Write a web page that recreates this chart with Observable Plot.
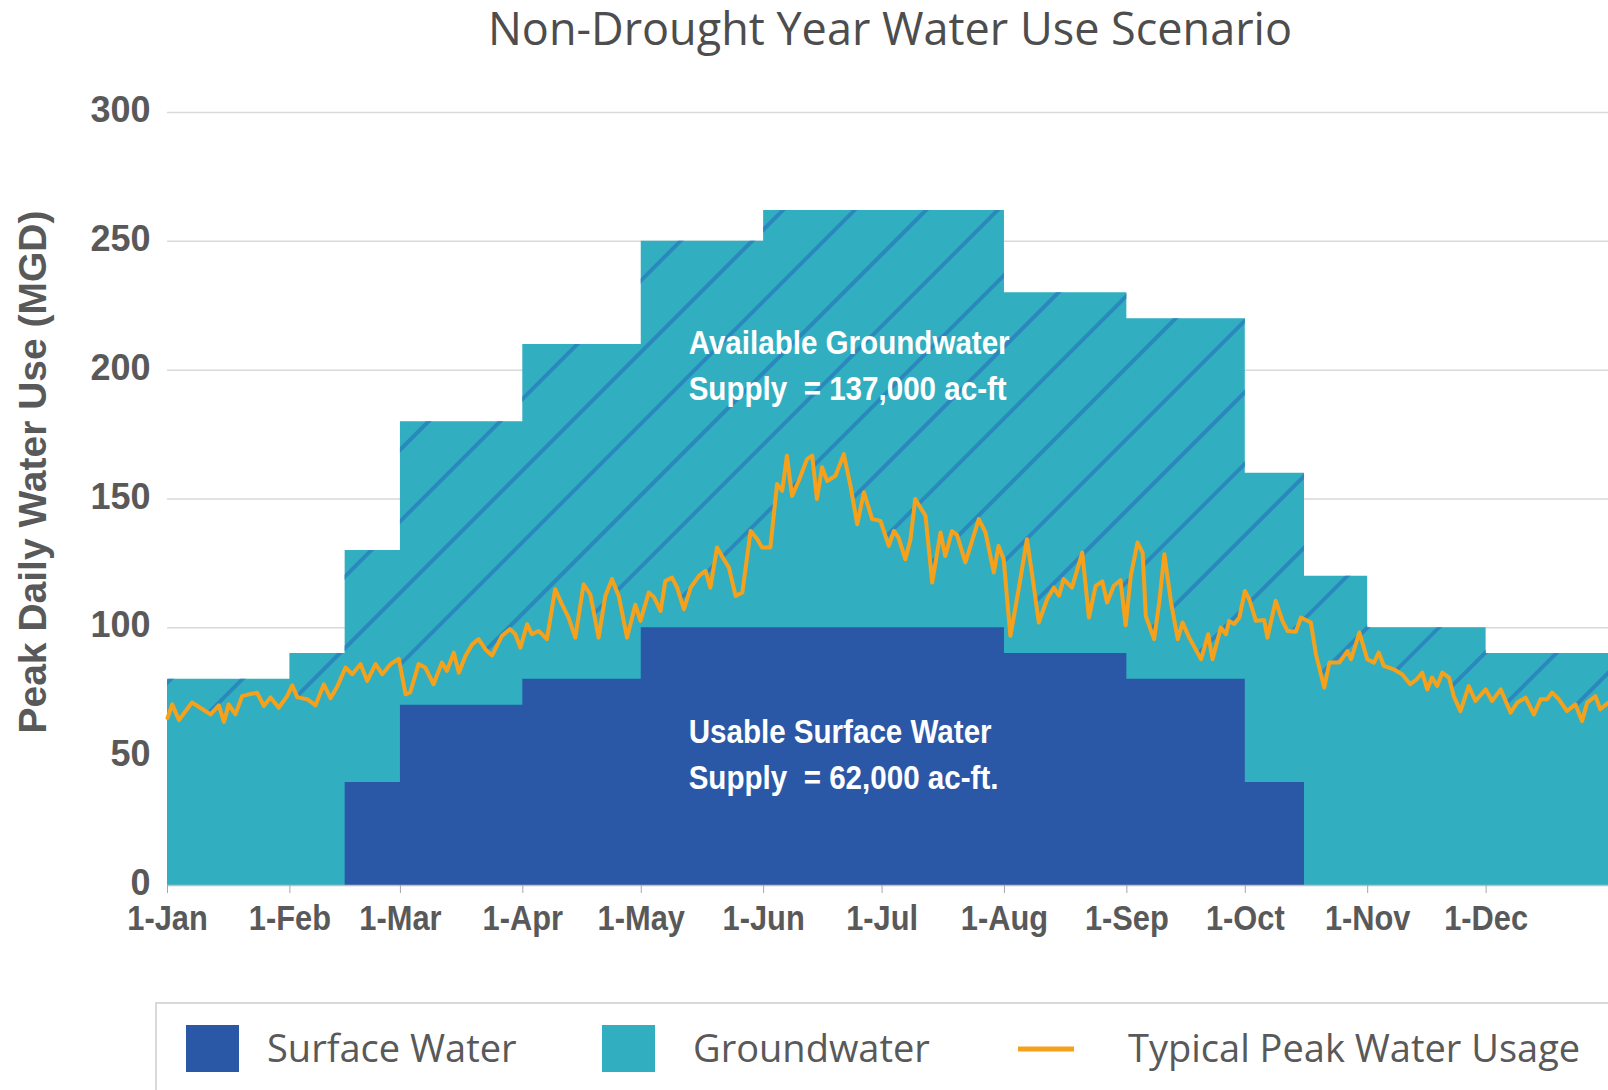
<!DOCTYPE html>
<html>
<head>
<meta charset="utf-8">
<script src="https://cdn.jsdelivr.net/npm/d3@7"></script>
<script src="https://cdn.jsdelivr.net/npm/@observablehq/plot@0.6"></script>
<style>
  body { margin: 0; background: #fff; width: 1608px; height: 1090px; overflow: hidden; position: relative; }
  #title { position: absolute; left: 890px; top: 0px; transform: translateX(-50%); font-family: "Open Sans", sans-serif; font-size: 45px; color: #4d4d4d; white-space: nowrap; line-height: 56px; }
  #chart { position: absolute; left: 0; top: 60px; }
  #legend { position: absolute; left: 0; top: 990px; }
</style>
</head>
<body>
<div id="title">Non-Drought Year Water Use Scenario</div>
<div id="chart"></div>
<svg id="legend" width="1608" height="100"></svg>
<script>
// ---- Data ----
const supplyStarts = ["2021-01-01","2021-02-01","2021-02-15","2021-03-01","2021-04-01","2021-05-01","2021-06-01","2021-08-01","2021-09-01","2021-10-01","2021-10-16","2021-11-01","2021-12-01","2022-01-01"];
const totalSupply   = [80, 90, 130, 180, 210, 250, 262, 230, 220, 160, 120, 100, 90, 90];
const surfaceSupply = [0, 0, 40, 70, 80, 100, 100, 90, 80, 40, 0, 0, 0, 0];

// Typical peak water usage: day of year (0 = 1-Jan) and MGD
const usageDay = [0,1.2,2.9,6.2,8.3,10.9,13,14.3,15.5,17.2,18.9,20.6,22.7,24.4,26.1,28.2,30.3,31.6,32.9,35.4,37.5,39.6,41.3,43,45.1,46.8,48.9,50.6,52.7,54.4,56.5,58.6,60.3,61.5,63.6,65.3,67.4,69.5,70.8,72.5,73.8,75.5,77.2,78.8,80.5,82.2,84.7,86.8,88.1,89.4,91.1,92.3,94,96.1,98.2,99.9,101.6,103.3,105.4,107.1,109.2,110.9,112.6,114.3,116.4,118.5,119.8,121.9,123.2,124.9,126.1,127.8,129.1,130.8,132.5,134.6,136.3,137.5,139.2,140.9,142.2,143.9,145.6,147.7,149.4,150.6,152.7,154.4,155.7,156.9,158.2,159.9,162,163.3,164.5,165.8,167.1,169.2,171.3,173,174.7,176.4,178.5,180.6,182.7,184,185.2,186.9,188.2,189.4,190.7,192,193.7,195.8,197,198.7,200,202.1,205.5,207.2,209.3,210.5,211.8,213.5,215.6,217.7,219,220.7,222.8,224.5,225.8,227,229.1,231.7,233.4,235.1,236.8,238,239.7,241.4,242.7,244,245.7,247,247.8,249.9,251.2,252.5,254.2,255.9,257.1,258.8,261.8,263.6,264.7,266.8,268.1,268.9,270.2,271.5,272.9,274,275.7,277.8,278.6,280.7,282.4,283.7,285.8,287.1,289.6,290.9,293,294.3,296.8,298.9,299.8,301.9,303.9,305.6,306.8,308.1,310.6,312.7,314.8,316.5,317.8,319.1,320.3,321.6,322.9,324.6,325.8,327.5,329.6,331.3,333.9,335.5,337.7,340.2,341.9,344,346.1,347.8,349.5,350.7,352.4,354.5,356.6,358.3,359.6,361.7,362.9,365];
const usageMGD = [65,70.3,64.2,71,69,66.4,69.9,63.5,70.3,66.4,73.5,74.2,74.8,69.7,73,69,73.5,77.7,73,72.3,69.9,78.1,72.7,77.2,84.6,82,85.9,79.4,85.9,82,85.9,88,74.2,75,85.9,84.6,78.1,86.5,83.3,90.4,82.6,89.2,93.6,95.6,91.7,89.2,96.9,99.5,97.5,92.3,101.4,97.5,98.8,95.6,115,109.2,104,96.2,116.9,113,96.2,112.4,118.9,112.4,96.2,109,102.7,113.7,112,106.6,118.2,119.5,115.6,107.2,115.6,120.2,122.1,115.6,131.2,126.6,123.4,112.4,113.7,137.6,134.4,131.2,131.2,155.8,153.2,166.8,151.2,157.1,165.5,166.8,150,162.3,157,159,167.4,155.1,140.2,152.6,142.2,141.5,131.8,137.6,134.9,126.6,134.4,150,146.7,143.5,117.6,137,127.9,137.6,136,125.4,142.2,137,121.5,131.8,126.6,96.9,115,134.4,120.8,102.1,111.1,115.6,112.5,118.9,115.6,129.2,104,116.3,118,109.8,116.3,118.5,101,120.2,133.1,129.2,104.6,95.6,109.8,128.6,109.8,95.6,102.1,96.2,87.8,97.5,87.8,100.1,97.5,102.7,101.5,104,114.3,111.1,102.7,103,96.2,110.5,102.7,98.8,98.5,104,102.1,89.7,76.8,86.5,86.5,91,87.8,98.2,87.8,86.5,90.4,85.2,83.9,82,78.1,80.1,82.6,76.1,80.7,77.4,82.6,80.7,73.5,67.7,77.4,71.6,76.1,71.6,76.1,67.1,71,72.9,66.4,72.3,72.3,74.9,72.3,67.7,70.3,63.8,71,73.5,68.4,71];

const monthTicks = ["2021-01-01","2021-02-01","2021-03-01","2021-04-01","2021-05-01","2021-06-01","2021-07-01","2021-08-01","2021-09-01","2021-10-01","2021-11-01","2021-12-01"];
const yTicks = [0, 50, 100, 150, 200, 250, 300];

const annotationLines = ["Available Groundwater", "Supply  = 137,000 ac-ft", "Usable Surface Water", "Supply  = 62,000 ac-ft."];
const annotationDates = ["2021-05-13", "2021-05-13", "2021-05-13", "2021-05-13"];
const annotationValues = [210.5, 192.5, 59.5, 41.5];

const legendLabels = ["Surface Water", "Groundwater", "Typical Peak Water Usage"];
const legendTypes = ["rect", "rect", "line"];

const yTitle = "Peak Daily Water Use (MGD)";

// ---- Colors ----
const TEAL = "#31afc0", BLUE = "#2b57a7", ORANGE = "#f6a11c", HATCH = "#2a88bd", TEXT = "#595959";
const legendColors = [BLUE, TEAL, ORANGE];

// ---- Tables ----
const year0 = Date.UTC(2021, 0, 1);
const steps = supplyStarts.map((d, i) => ({date: new Date(d), total: totalSupply[i], surface: surfaceSupply[i]}));
const usage = usageDay.map((d, i) => ({date: new Date(year0 + d * 864e5), value: usageMGD[i]}));
const annotations = annotationLines.map((t, i) => ({text: t, date: new Date(annotationDates[i]), value: annotationValues[i]}));

const boldFont = "'Liberation Sans', Arial, sans-serif";

const chart = Plot.plot({
  width: 1608,
  height: 930,
  marginLeft: 167,
  marginRight: 0,
  marginTop: 52,
  marginBottom: 105,
  style: {background: "transparent", overflow: "visible"},
  x: {type: "utc", domain: [new Date("2021-01-01"), new Date("2022-01-01")]},
  y: {domain: [0, 300]},
  marks: [
    Plot.gridY(yTicks.slice(1), {stroke: "#d9d9d9", strokeOpacity: 1, strokeWidth: 1.5}),
    Plot.areaY(steps, {x: "date", y1: 0, y2: "total", curve: "step-after", fill: TEAL}),
    Plot.areaY(steps, {x: "date", y1: 0, y2: "total", curve: "step-after", fill: "url(#hatch)"}),
    Plot.areaY(usage, {x: "date", y1: 0, y2: "value", fill: TEAL}),
    Plot.areaY(steps, {x: "date", y1: 0, y2: "surface", curve: "step-after", fill: BLUE}),
    Plot.ruleY([0], {stroke: "#bfbfbf", strokeWidth: 1.5}),
    Plot.line(usage, {x: "date", y: "value", stroke: ORANGE, strokeWidth: 4, strokeLinejoin: "round"}),
    Plot.text(annotations, {x: "date", y: "value", text: "text", textAnchor: "start", fill: "white",
      fontFamily: boldFont, fontWeight: "bold", fontSize: 34}),
    Plot.axisY({ticks: yTicks, tickSize: 0, tickPadding: 17, fontSize: 36, fontWeight: "bold", dy: -2,
      fontFamily: boldFont, fill: TEXT, label: null}),
    Plot.axisX({ticks: monthTicks.map(d => new Date(d)), tickFormat: d3.utcFormat("%-d-%b"), tickSize: 8, tickPadding: 12,
      fontSize: 35, fontWeight: "bold", fontFamily: boldFont, fill: TEXT, stroke: "#a6a6a6", label: null})
  ]
});

// horizontally condense bold texts (narrow bold look), keeping anchors in place
function condense(sel, sx) {
  sel.each(function() {
    const t = this.getAttribute("transform") || "";
    const xa = this.getAttribute("x");
    if (xa != null && !isNaN(+xa)) this.setAttribute("x", +xa / sx);
    this.setAttribute("transform", `${t} scale(${sx},1)`);
  });
}
const svgSel = d3.select(chart);
condense(svgSel.selectAll('g[aria-label="x-axis tick label"] text'), 0.88);
condense(svgSel.selectAll("text").filter(function() { return annotationLines.includes(this.textContent); }), 0.87);

// y-axis title
svgSel.append("text").attr("transform", "translate(32,412) rotate(-90)")
  .attr("text-anchor", "middle").attr("dominant-baseline", "central")
  .attr("font-family", boldFont).attr("font-weight", "bold").attr("font-size", 39)
  .attr("fill", TEXT).text(yTitle);

// hatch pattern for the unused groundwater supply
const defs = svgSel.insert("defs", ":first-child");
const pat = defs.append("pattern").attr("id", "hatch").attr("patternUnits", "userSpaceOnUse")
  .attr("width", 50.6).attr("height", 50.6).attr("patternTransform", "rotate(45)");
pat.append("line").attr("x1", 2).attr("y1", -1).attr("x2", 2).attr("y2", 52)
  .attr("stroke", HATCH).attr("stroke-width", 4);

document.getElementById("chart").appendChild(chart);

// legend
const lg = d3.select("#legend");
lg.append("rect").attr("x", 156).attr("y", 13).attr("width", 1500).attr("height", 150)
  .attr("fill", "none").attr("stroke", "#d9d9d9").attr("stroke-width", 2);
const swatchX = [186, 602, 1018];
const labelX = [267, 693, 1128];
legendLabels.forEach((lab, i) => {
  if (legendTypes[i] === "rect") {
    lg.append("rect").attr("x", swatchX[i]).attr("y", 35).attr("width", 53).attr("height", 47).attr("fill", legendColors[i]);
  } else {
    lg.append("line").attr("x1", swatchX[i]).attr("x2", swatchX[i] + 56).attr("y1", 59).attr("y2", 59)
      .attr("stroke", legendColors[i]).attr("stroke-width", 5);
  }
  lg.append("text").attr("x", labelX[i]).attr("y", 59).attr("dy", "0.35em").text(lab)
    .attr("font-family", "'Open Sans', sans-serif").attr("font-size", 38).attr("fill", TEXT);
});
</script>
</body>
</html>
